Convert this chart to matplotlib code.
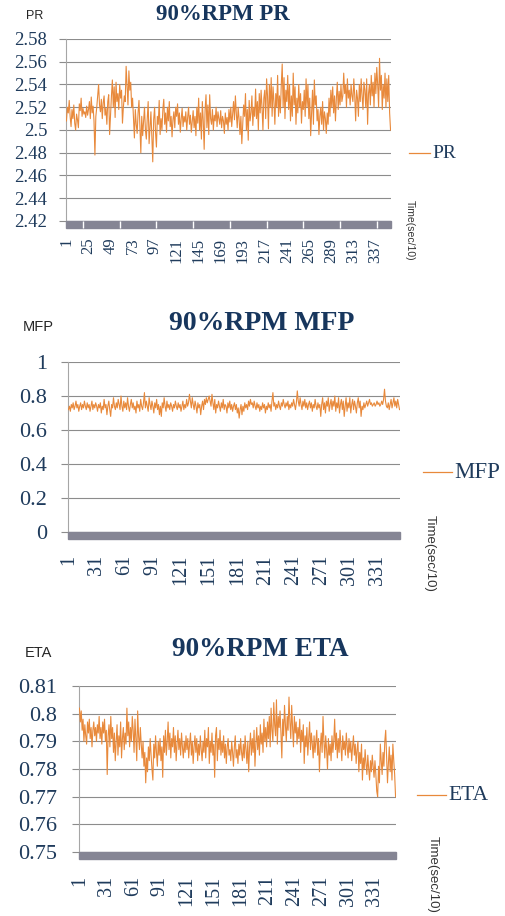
from matplotlib import pyplot as plt
from matplotlib.lines import Line2D
from matplotlib.patches import Rectangle

# 90%RPM 数据
pr = [2.508, 2.520, 2.515, 2.526, 2.512, 2.503, 2.518, 2.510, 2.522, 2.506, 2.500, 2.514, 2.509, 2.502, 2.523, 2.517, 2.528, 2.512, 2.519, 2.514, 2.516, 2.511, 2.521, 2.513,
      2.518, 2.525, 2.510, 2.529, 2.515, 2.521, 2.508, 2.478, 2.512, 2.520, 2.530, 2.540, 2.522, 2.516, 2.527, 2.510, 2.524, 2.530, 2.513, 2.519, 2.505, 2.525, 2.531, 2.496,
      2.514, 2.530, 2.544, 2.520, 2.538, 2.511, 2.542, 2.525, 2.532, 2.518, 2.540, 2.528, 2.535, 2.506, 2.520, 2.530, 2.525, 2.556, 2.538, 2.522, 2.552, 2.535, 2.542, 2.520,
      2.528, 2.510, 2.493, 2.518, 2.505, 2.497, 2.515, 2.526, 2.503, 2.480, 2.512, 2.495, 2.508, 2.520, 2.500, 2.492, 2.510, 2.525, 2.488, 2.502, 2.516, 2.495, 2.472, 2.509,
      2.520, 2.498, 2.485, 2.512, 2.505, 2.526, 2.496, 2.510, 2.500, 2.518, 2.527, 2.505, 2.515, 2.498, 2.520, 2.508, 2.525, 2.503, 2.512, 2.494, 2.509, 2.516, 2.502, 2.520,
      2.512, 2.523, 2.505, 2.515, 2.498, 2.510, 2.519, 2.503, 2.512, 2.507, 2.516, 2.500, 2.511, 2.520, 2.505, 2.513, 2.498, 2.508, 2.517, 2.502, 2.512, 2.495, 2.520, 2.506,
      2.528, 2.500, 2.515, 2.492, 2.525, 2.508, 2.483, 2.518, 2.531, 2.502, 2.522, 2.496, 2.531, 2.510, 2.505, 2.518, 2.500, 2.513, 2.508, 2.520, 2.503, 2.516, 2.510, 2.505,
      2.517, 2.502, 2.512, 2.508, 2.497, 2.515, 2.505, 2.511, 2.500, 2.518, 2.507, 2.520, 2.503, 2.514, 2.525, 2.509, 2.530, 2.515, 2.502, 2.520, 2.510, 2.496, 2.512, 2.488,
      2.505, 2.522, 2.512, 2.532, 2.500, 2.518, 2.491, 2.526, 2.508, 2.515, 2.530, 2.504, 2.520, 2.512, 2.536, 2.510, 2.525, 2.500, 2.532, 2.515, 2.535, 2.520, 2.500, 2.528,
      2.535, 2.510, 2.545, 2.530, 2.501, 2.540, 2.520, 2.546, 2.512, 2.538, 2.525, 2.505, 2.532, 2.520, 2.548, 2.512, 2.530, 2.515, 2.540, 2.558, 2.520, 2.546, 2.510, 2.535,
      2.525, 2.548, 2.518, 2.540, 2.508, 2.530, 2.512, 2.550, 2.522, 2.538, 2.505, 2.528, 2.515, 2.540, 2.520, 2.532, 2.506, 2.525, 2.518, 2.535, 2.512, 2.545, 2.520, 2.540,
      2.510, 2.528, 2.495, 2.515, 2.535, 2.505, 2.544, 2.522, 2.530, 2.508, 2.518, 2.496, 2.512, 2.520, 2.505, 2.525, 2.500, 2.516, 2.510, 2.497, 2.515, 2.505, 2.528, 2.512,
      2.535, 2.520, 2.538, 2.515, 2.530, 2.508, 2.528, 2.542, 2.518, 2.534, 2.522, 2.540, 2.525, 2.530, 2.550, 2.532, 2.540, 2.520, 2.545, 2.528, 2.535, 2.522, 2.540, 2.530,
      2.525, 2.545, 2.530, 2.508, 2.535, 2.528, 2.512, 2.540, 2.525, 2.545, 2.530, 2.518, 2.542, 2.535, 2.520, 2.545, 2.505, 2.532, 2.540, 2.522, 2.548, 2.530, 2.542, 2.520,
      2.550, 2.532, 2.555, 2.540, 2.520, 2.563, 2.535, 2.548, 2.518, 2.540, 2.528, 2.550, 2.520, 2.545, 2.525, 2.548, 2.515, 2.500]

mfp = [0.72, 0.74, 0.71, 0.75, 0.73, 0.76, 0.72, 0.74, 0.77, 0.73, 0.75, 0.71, 0.74, 0.76, 0.72, 0.75, 0.73, 0.77, 0.74, 0.72, 0.76, 0.73, 0.75, 0.71, 0.74, 0.77, 0.72, 0.75, 0.73, 0.76,
       0.74, 0.71, 0.75, 0.73, 0.76, 0.70, 0.74, 0.72, 0.78, 0.73, 0.75, 0.69, 0.74, 0.77, 0.72, 0.68, 0.75, 0.73, 0.79, 0.74, 0.72, 0.76, 0.73, 0.78, 0.75, 0.72, 0.80, 0.74, 0.71, 0.77,
       0.73, 0.76, 0.72, 0.79, 0.74, 0.71, 0.75, 0.78, 0.73, 0.76, 0.72, 0.74, 0.70, 0.77, 0.73, 0.75, 0.71, 0.78, 0.74, 0.72, 0.76, 0.82, 0.73, 0.77, 0.74, 0.71, 0.79, 0.75, 0.72, 0.77,
       0.74, 0.70, 0.76, 0.73, 0.78, 0.72, 0.75, 0.69, 0.74, 0.68, 0.76, 0.73, 0.79, 0.74, 0.71, 0.77, 0.73, 0.75, 0.72, 0.76, 0.74, 0.71, 0.75, 0.73, 0.77, 0.74, 0.72, 0.76, 0.73, 0.75,
       0.71, 0.74, 0.77, 0.72, 0.75, 0.73, 0.78, 0.74, 0.76, 0.81, 0.77, 0.73, 0.79, 0.75, 0.72, 0.77, 0.74, 0.70, 0.76, 0.73, 0.75, 0.69, 0.74, 0.77, 0.72, 0.78, 0.75, 0.79, 0.76, 0.78,
       0.80, 0.77, 0.74, 0.81, 0.76, 0.72, 0.78, 0.70, 0.75, 0.73, 0.77, 0.74, 0.71, 0.76, 0.73, 0.78, 0.72, 0.75, 0.74, 0.70, 0.76, 0.73, 0.77, 0.72, 0.75, 0.71, 0.74, 0.76, 0.72, 0.75,
       0.70, 0.73, 0.67, 0.72, 0.75, 0.69, 0.74, 0.71, 0.76, 0.73, 0.75, 0.72, 0.77, 0.74, 0.78, 0.75, 0.76, 0.73, 0.77, 0.74, 0.72, 0.76, 0.73, 0.75, 0.71, 0.74, 0.72, 0.76, 0.73, 0.75,
       0.70, 0.74, 0.72, 0.76, 0.73, 0.75, 0.71, 0.77, 0.82, 0.74, 0.76, 0.72, 0.75, 0.73, 0.77, 0.74, 0.72, 0.76, 0.74, 0.78, 0.75, 0.73, 0.76, 0.74, 0.77, 0.72, 0.75, 0.73, 0.76, 0.74,
       0.78, 0.75, 0.72, 0.76, 0.83, 0.77, 0.74, 0.79, 0.75, 0.72, 0.77, 0.74, 0.78, 0.73, 0.76, 0.72, 0.75, 0.77, 0.73, 0.76, 0.71, 0.75, 0.73, 0.78, 0.74, 0.72, 0.76, 0.73, 0.75, 0.68,
       0.75, 0.79, 0.72, 0.76, 0.70, 0.77, 0.74, 0.79, 0.71, 0.75, 0.78, 0.72, 0.77, 0.74, 0.80, 0.71, 0.76, 0.73, 0.79, 0.70, 0.75, 0.78, 0.72, 0.77, 0.68, 0.74, 0.79, 0.71, 0.76, 0.73,
       0.79, 0.70, 0.75, 0.78, 0.72, 0.77, 0.74, 0.70, 0.76, 0.79, 0.73, 0.77, 0.68, 0.74, 0.72, 0.76, 0.73, 0.75, 0.77, 0.74, 0.76, 0.78, 0.75, 0.76, 0.74, 0.75, 0.76, 0.74, 0.75, 0.77,
       0.75, 0.76, 0.74, 0.75, 0.77, 0.75, 0.78, 0.84, 0.77, 0.74, 0.73, 0.76, 0.72, 0.75, 0.78, 0.73, 0.76, 0.79, 0.74, 0.77, 0.73, 0.78, 0.75, 0.72]

eta = [0.802, 0.797, 0.801, 0.794, 0.798, 0.790, 0.796, 0.792, 0.789, 0.797, 0.793, 0.798, 0.791, 0.795, 0.788, 0.794, 0.797, 0.792, 0.795, 0.790, 0.796, 0.793, 0.799, 0.791, 0.795, 0.789, 0.797, 0.793, 0.798, 0.790,
       0.794, 0.778, 0.792, 0.796, 0.788, 0.799, 0.791, 0.795, 0.786, 0.793, 0.783, 0.790, 0.796, 0.785, 0.792, 0.788, 0.797, 0.784, 0.791, 0.795, 0.787, 0.793, 0.789, 0.802, 0.792, 0.797, 0.788, 0.795, 0.790, 0.799,
       0.794, 0.786, 0.798, 0.791, 0.783, 0.801, 0.792, 0.787, 0.795, 0.789, 0.784, 0.790, 0.781, 0.786, 0.775, 0.784, 0.779, 0.788, 0.783, 0.791, 0.785, 0.780, 0.776, 0.789, 0.784, 0.792, 0.786, 0.781, 0.790, 0.785,
       0.791, 0.783, 0.788, 0.777, 0.792, 0.786, 0.794, 0.785, 0.790, 0.797, 0.787, 0.793, 0.784, 0.791, 0.788, 0.795, 0.786, 0.792, 0.783, 0.789, 0.794, 0.787, 0.791, 0.785, 0.793, 0.788, 0.784, 0.790, 0.786, 0.792,
       0.787, 0.791, 0.784, 0.789, 0.793, 0.785, 0.790, 0.782, 0.788, 0.792, 0.786, 0.791, 0.783, 0.789, 0.785, 0.792, 0.787, 0.783, 0.790, 0.786, 0.794, 0.784, 0.791, 0.788, 0.795, 0.782, 0.790, 0.786, 0.793, 0.785,
       0.789, 0.777, 0.792, 0.795, 0.783, 0.791, 0.787, 0.794, 0.785, 0.790, 0.786, 0.792, 0.784, 0.789, 0.782, 0.788, 0.791, 0.785, 0.787, 0.783, 0.790, 0.786, 0.781, 0.788, 0.792, 0.784, 0.787, 0.782, 0.789, 0.785,
       0.791, 0.786, 0.783, 0.789, 0.784, 0.792, 0.787, 0.782, 0.790, 0.779, 0.788, 0.793, 0.785, 0.791, 0.786, 0.794, 0.781, 0.789, 0.795, 0.787, 0.792, 0.785, 0.796, 0.789, 0.793, 0.786, 0.798, 0.790, 0.795, 0.788,
       0.797, 0.791, 0.799, 0.788, 0.802, 0.794, 0.790, 0.804, 0.796, 0.792, 0.805, 0.789, 0.799, 0.795, 0.801, 0.793, 0.784, 0.798, 0.792, 0.803, 0.796, 0.790, 0.799, 0.794, 0.806, 0.797, 0.791, 0.803, 0.795, 0.788,
       0.799, 0.793, 0.797, 0.789, 0.795, 0.791, 0.798, 0.786, 0.794, 0.790, 0.796, 0.782, 0.792, 0.788, 0.795, 0.785, 0.791, 0.797, 0.787, 0.793, 0.789, 0.784, 0.792, 0.786, 0.790, 0.794, 0.785, 0.791, 0.779, 0.788,
       0.793, 0.786, 0.799, 0.790, 0.784, 0.792, 0.787, 0.780, 0.791, 0.785, 0.789, 0.783, 0.792, 0.786, 0.790, 0.798, 0.787, 0.793, 0.784, 0.791, 0.786, 0.794, 0.788, 0.783, 0.792, 0.787, 0.790, 0.785, 0.793, 0.788,
       0.784, 0.791, 0.786, 0.790, 0.783, 0.788, 0.792, 0.785, 0.789, 0.782, 0.787, 0.790, 0.779, 0.786, 0.782, 0.789, 0.776, 0.784, 0.780, 0.787, 0.782, 0.778, 0.785, 0.780, 0.776, 0.783, 0.779, 0.785, 0.781, 0.777,
       0.783, 0.778, 0.772, 0.770, 0.781, 0.775, 0.789, 0.783, 0.778, 0.786, 0.781, 0.790, 0.794, 0.784, 0.775, 0.782, 0.788, 0.779, 0.785, 0.776, 0.789, 0.783, 0.778, 0.770]

pr_xticks = [1, 25, 49, 73, 97, 121, 145, 169, 193, 217, 241, 265, 289, 313, 337]
mfp_xticks = [1, 31, 61, 91, 121, 151, 181, 211, 241, 271, 301, 331]
eta_xticks = [1, 31, 61, 91, 121, 151, 181, 211, 241, 271, 301, 331]
pr_yticks = [2.42, 2.44, 2.46, 2.48, 2.5, 2.52, 2.54, 2.56, 2.58]
pr_ylabels = ['2.42', '2.44', '2.46', '2.48', '2.5', '2.52', '2.54', '2.56', '2.58']
mfp_yticks = [0, 0.2, 0.4, 0.6, 0.8, 1]
mfp_ylabels = ['0', '0.2', '0.4', '0.6', '0.8', '1']
eta_yticks = [0.75, 0.76, 0.77, 0.78, 0.79, 0.8, 0.81]
eta_ylabels = ['0.75', '0.76', '0.77', '0.78', '0.79', '0.8', '0.81']

W, H = 506, 916
SERIF = 'Liberation Serif'
SANS = ['Liberation Sans', 'DejaVu Sans']
NAVY = '#1f3b5c'
TITLE_C = '#17365d'
ORANGE = '#e8893b'
GRID = '#8c8c8c'
BAR = '#858594'

fig = plt.figure(figsize=(W / 100, H / 100), dpi=100)


def fx(x):
    return x / W


def fy(y):
    return 1 - y / H


def panel(name, values, box, ylim, yticks, ylabels, xticks, fs_y, fs_x, pad_y, pad_x,
          title_xy, title_fs, name_xy, name_fs, leg_x, leg_y, leg_fs, time_xy, time_fs, seps=None):
    l, t, r, b = box
    ax = fig.add_axes([fx(l), fy(b), (r - l) / W, (b - t) / H])
    x = list(range(1, len(values) + 1))
    ax.plot(x, values, color=ORANGE, lw=0.8, zorder=3)
    ax.set_xlim(0.5, len(values) + 0.5)
    ax.set_ylim(*ylim)
    ax.set_yticks(yticks)
    ax.set_yticklabels(ylabels, fontfamily=SERIF, fontsize=fs_y, color=NAVY)
    ax.set_xticks(xticks)
    ax.set_xticklabels([str(v) for v in xticks], rotation=90, va='top', ha='center',
                       fontfamily=SERIF, fontsize=fs_x, color=NAVY)
    ax.tick_params(axis='y', length=5, width=0.8, color=GRID, pad=pad_y)
    ax.tick_params(axis='x', length=0, pad=pad_x)
    ax.grid(axis='y', color=GRID, lw=0.8)
    ax.set_axisbelow(True)
    for s in ['top', 'right', 'bottom']:
        ax.spines[s].set_visible(False)
    ax.spines['left'].set_color('#a6a6a6')
    ax.spines['left'].set_linewidth(0.8)
    # 底部灰色横条
    bh = 6.5 / (b - t)
    ax.add_patch(Rectangle((0, -bh), 1, bh, transform=ax.transAxes, color=BAR,
                           clip_on=False, zorder=4))
    if seps is not None:
        ax.vlines(seps, -bh, 0, transform=ax.get_xaxis_transform(), colors='white',
                  lw=1, clip_on=False, zorder=5)

    fig.text(fx(title_xy[0]), fy(title_xy[1]), '90%RPM ' + name, ha='center', va='center',
             fontfamily=SERIF, fontweight='bold', fontsize=title_fs, color=TITLE_C)
    fig.text(fx(name_xy[0]), fy(name_xy[1]), name, ha='center', va='center',
             family=SANS, fontsize=name_fs, color='#262626')
    fig.add_artist(Line2D([fx(leg_x[0]), fx(leg_x[1])], [fy(leg_y), fy(leg_y)],
                          color=ORANGE, lw=0.9))
    fig.text(fx(leg_x[1] + 2), fy(leg_y), name, ha='left', va='center',
             fontfamily=SERIF, fontsize=leg_fs, color=NAVY)
    fig.text(fx(time_xy[0]), fy(time_xy[1]), 'Time(sec/10)', rotation=-90, ha='center', va='top',
             family=SANS, fontsize=time_fs, color='#333333')
    return ax


panel('PR', pr, (66, 39, 391, 221), (2.42, 2.58), pr_yticks, pr_ylabels, pr_xticks,
      13.5, 12, 8.5, 12, (223, 15), 16.5, (35, 16), 9, (409, 430), 153, 14,
      (410, 200), 7.5, seps=[19, 59, 99, 139, 179, 219, 259, 299, 339])

panel('MFP', mfp, (68, 362, 400, 532), (0, 1), mfp_yticks, mfp_ylabels, mfp_xticks,
      16, 14.5, 10, 16.5, (262, 323), 20, (38, 327), 10.5, (423, 452), 472, 16.5,
      (430, 515), 9.5)

panel('ETA', eta, (79, 686, 396, 852), (0.75, 0.81), eta_yticks, eta_ylabels, eta_xticks,
      16, 14.5, 10.5, 17, (260, 649), 19.5, (38, 653), 10.5, (417, 446), 795, 15.5,
      (433, 836), 9.5)

plt.savefig('out.png', dpi=100)
plt.close()
